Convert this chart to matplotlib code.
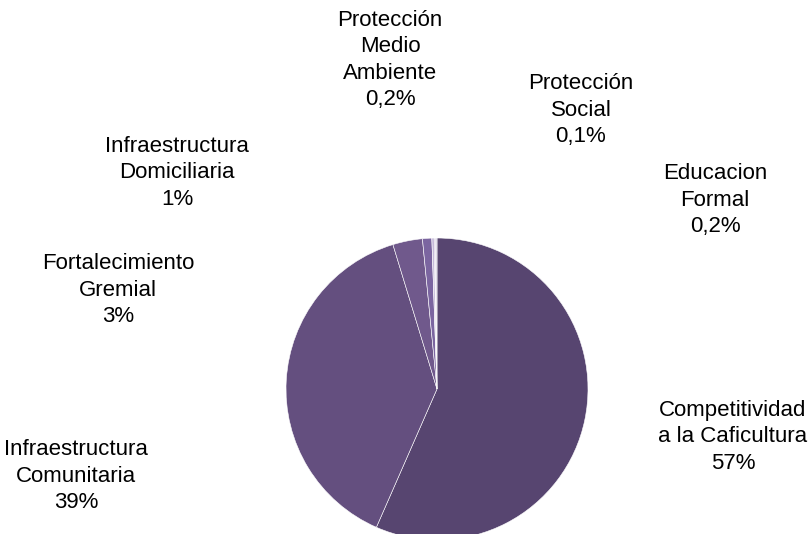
import matplotlib
matplotlib.use("Agg")
import matplotlib.pyplot as plt

categories = ["Competitividad\na la Caficultura", "Infraestructura\nComunitaria",
              "Fortalecimiento\nGremial", "Infraestructura\nDomiciliaria",
              "Protección\nMedio\nAmbiente", "Protección\nSocial", "Educacion\nFormal"]
values = [57, 39, 3.2, 1, 0.25, 0.1, 0.2]
pct_labels = ["57%", "39%", "3%", "1%", "0,2%", "0,1%", "0,2%"]
colors = ["#574570", "#644f7f", "#70598c", "#7b65a0", "#c4b8d8", "#a898c0", "#d8d2e4"]

# label centre positions in pixels (x, y from top)
label_pos = [(733, 437), (76, 476), (118, 290), (177, 173), (390, 60), (581, 110), (715, 200)]

W, H = 812, 534
fig = plt.figure(figsize=(W / 100, H / 100), dpi=100)
plt.rcParams['font.family'] = ['Liberation Sans', 'DejaVu Sans']

cx, cy, r = 437, 389, 151
ax = fig.add_axes([(cx - r) / W, (H - cy - r) / H, 2 * r / W, 2 * r / H])
ax.pie(values, colors=colors, startangle=90, counterclock=False,
       wedgeprops=dict(edgecolor="white", linewidth=0.4))
ax.set_xlim(-1, 1)
ax.set_ylim(-1, 1)
ax.set_aspect('equal')
for p in ax.patches:
    p.set_clip_on(False)

for cat, pl, (x, y) in zip(categories, pct_labels, label_pos):
    fig.text(x / W, 1 - y / H, cat + "\n" + pl, ha='center', va='center',
             fontsize=16, linespacing=1.33, color='black')

fig.savefig("out.png", dpi=100)
